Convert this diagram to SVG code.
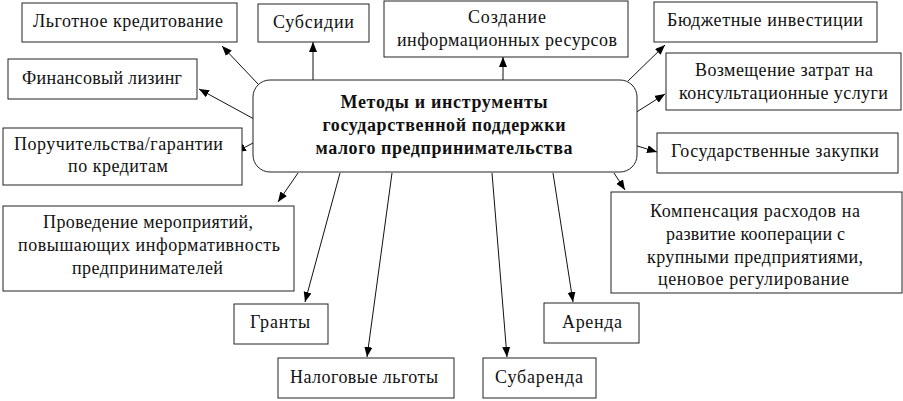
<svg xmlns="http://www.w3.org/2000/svg" width="903" height="401" viewBox="0 0 903 401">
<style>
  .box { fill: #fff; stroke: #222; stroke-width: 1; }
  .t { font-family: "Liberation Serif", "DejaVu Serif", "Times New Roman", serif; font-size: 18px; fill: #111; text-anchor: middle; }
  .b { font-weight: bold; }
  .c { stroke: #111; stroke-width: 1; fill: none; marker-end: url(#ah); }
</style>
<defs>
  <marker id="ah" markerWidth="11" markerHeight="9" refX="10" refY="4" orient="auto" markerUnits="userSpaceOnUse">
    <path d="M0,0 L10,4 L0,8 z" fill="#000"/>
  </marker>
</defs>
<rect width="903" height="401" fill="#fff"/>

<g id="connectors">
  <line class="c" x1="258" y1="84" x2="222" y2="46"/>
  <line class="c" x1="313" y1="80" x2="313" y2="42"/>
  <line class="c" x1="503" y1="80" x2="503" y2="57"/>
  <line class="c" x1="628" y1="81" x2="665" y2="45"/>
  <line class="c" x1="635" y1="113" x2="665" y2="94"/>
  <line class="c" x1="634" y1="145" x2="657" y2="152"/>
  <line class="c" x1="614" y1="173" x2="625" y2="190"/>
  <line class="c" x1="553" y1="173" x2="573" y2="302"/>
  <line class="c" x1="492" y1="173" x2="507" y2="357"/>
  <line class="c" x1="392" y1="173" x2="367" y2="357"/>
  <line class="c" x1="340" y1="173" x2="305" y2="302"/>
  <line class="c" x1="298" y1="173" x2="278" y2="202"/>
  <line class="c" x1="253" y1="143" x2="236" y2="152"/>
  <line class="c" x1="254" y1="119" x2="199" y2="89"/>
</g>

<g id="center">
  <rect class="box" x="253" y="80" width="384" height="92" rx="17" ry="17"/>
  <text class="t b" x="444" y="108" textLength="207" lengthAdjust="spacing">Методы и инструменты</text>
  <text class="t b" x="444" y="131" textLength="243" lengthAdjust="spacing">государственной поддержки</text>
  <text class="t b" x="444" y="154" textLength="257" lengthAdjust="spacing">малого предпринимательства</text>
</g>

<g id="n-lgot">
  <rect class="box" x="22" y="3" width="215" height="39"/>
  <text class="t" x="128" y="27" textLength="190" lengthAdjust="spacing">Льготное кредитование</text>
</g>
<g id="n-subs">
  <rect class="box" x="258" y="4" width="111" height="38"/>
  <text class="t" x="313.5" y="28" textLength="81" lengthAdjust="spacing">Субсидии</text>
</g>
<g id="n-info">
  <rect class="box" x="384" y="1" width="244" height="56"/>
  <text class="t" x="507" y="23" textLength="78" lengthAdjust="spacing">Создание</text>
  <text class="t" x="507" y="46" textLength="220" lengthAdjust="spacing">информационных ресурсов</text>
</g>
<g id="n-budget">
  <rect class="box" x="654" y="2" width="223" height="40"/>
  <text class="t" x="765" y="26" textLength="196" lengthAdjust="spacing">Бюджетные инвестиции</text>
</g>
<g id="n-lizing">
  <rect class="box" x="8" y="59" width="189" height="40"/>
  <text class="t" x="102" y="84" textLength="160" lengthAdjust="spacing">Финансовый лизинг</text>
</g>
<g id="n-vozm">
  <rect class="box" x="666" y="53" width="235" height="57"/>
  <text class="t" x="784" y="76" textLength="178" lengthAdjust="spacing">Возмещение затрат на</text>
  <text class="t" x="783.5" y="99" textLength="209" lengthAdjust="spacing">консультационные услуги</text>
</g>
<g id="n-poruch">
  <rect class="box" x="3" y="128" width="239" height="57"/>
  <text class="t" x="118.5" y="150" textLength="209" lengthAdjust="spacing">Поручительства/гарантии</text>
  <text class="t" x="118" y="172" textLength="100" lengthAdjust="spacing">по кредитам</text>
</g>
<g id="n-zakup">
  <rect class="box" x="657" y="133" width="241" height="40"/>
  <text class="t" x="775" y="157" textLength="208" lengthAdjust="spacing">Государственные закупки</text>
</g>
<g id="n-meropr">
  <rect class="box" x="3" y="206" width="291" height="85"/>
  <text class="t" x="148" y="228" textLength="210" lengthAdjust="spacing">Проведение мероприятий,</text>
  <text class="t" x="149" y="251" textLength="262" lengthAdjust="spacing">повышающих информативность</text>
  <text class="t" x="147.5" y="274" textLength="151" lengthAdjust="spacing">предпринимателей</text>
</g>
<g id="n-komp">
  <rect class="box" x="611" y="192" width="291" height="101"/>
  <text class="t" x="755" y="217" textLength="210" lengthAdjust="spacing">Компенсация расходов на</text>
  <text class="t" x="755.5" y="240" textLength="179" lengthAdjust="spacing">развитие кооперации с</text>
  <text class="t" x="755" y="263" textLength="216" lengthAdjust="spacing">крупными предприятиями,</text>
  <text class="t" x="753.5" y="285" textLength="191" lengthAdjust="spacing">ценовое регулирование</text>
</g>
<g id="n-granty">
  <rect class="box" x="234" y="304" width="94" height="40"/>
  <text class="t" x="280" y="328" textLength="60" lengthAdjust="spacing">Гранты</text>
</g>
<g id="n-arenda">
  <rect class="box" x="544" y="303" width="95" height="40"/>
  <text class="t" x="592" y="328" textLength="60" lengthAdjust="spacing">Аренда</text>
</g>
<g id="n-nalog">
  <rect class="box" x="278" y="358" width="176" height="40"/>
  <text class="t" x="364" y="383" textLength="148" lengthAdjust="spacing">Налоговые льготы</text>
</g>
<g id="n-subarenda">
  <rect class="box" x="483" y="358" width="113" height="40"/>
  <text class="t" x="539" y="383" textLength="88" lengthAdjust="spacing">Субаренда</text>
</g>
</svg>
